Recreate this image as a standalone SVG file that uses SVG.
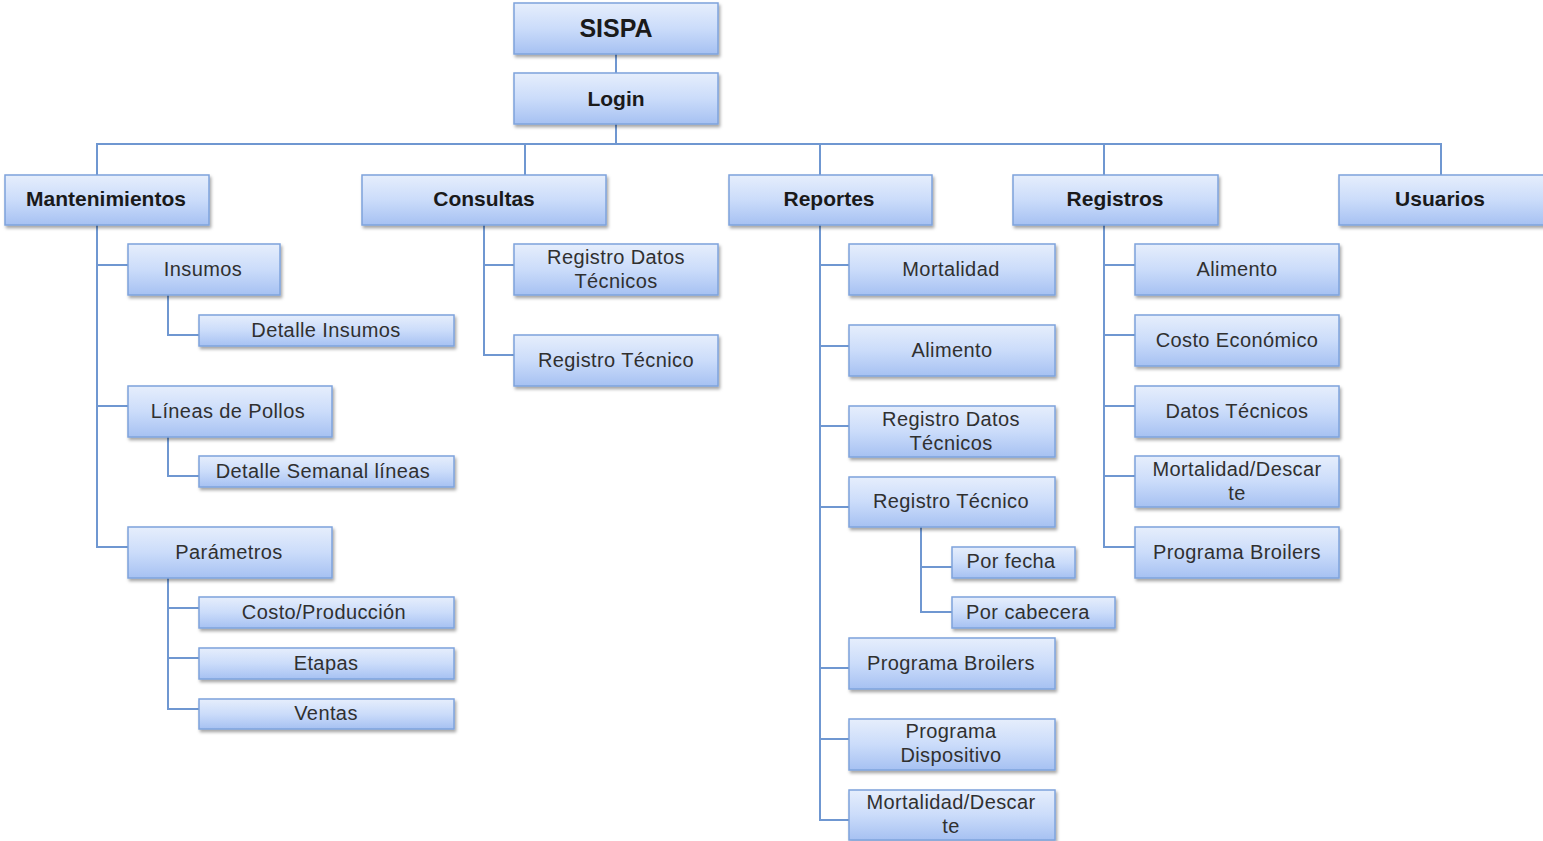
<svg xmlns="http://www.w3.org/2000/svg" width="1543" height="841" viewBox="0 0 1543 841">
  <defs>
    <linearGradient id="boxFill" x1="0" y1="0" x2="0" y2="1">
      <stop offset="0" stop-color="#e6eefc"/>
      <stop offset="0.5" stop-color="#cbdcfa"/>
      <stop offset="1" stop-color="#a6c1f2"/>
    </linearGradient>
    <filter id="shadow" x="-10%" y="-20%" width="120%" height="150%">
      <feDropShadow dx="1.5" dy="2.5" stdDeviation="1.5" flood-color="#000" flood-opacity="0.35"/>
    </filter>
  </defs>
  <style>
    .box { fill: url(#boxFill); stroke: #7ea3dc; stroke-width: 1.5; filter: url(#shadow); }
    .head { font-family: "Liberation Sans", Arial, sans-serif; font-weight: bold; font-size: 21px; fill: #1a1a1a; text-anchor: middle; }
    .title { font-size: 25px; }
    .item { font-family: "Liberation Sans", Arial, sans-serif; font-size: 20px; fill: #303030; text-anchor: middle; letter-spacing: 0.4px; }
    .wire { fill: none; stroke: #6f97d1; stroke-width: 2; }
  </style>
  <rect width="1543" height="841" fill="#ffffff"/>

  <!-- connectors -->
  <g id="connectors" class="wire">
    <path d="M616 54V73"/>
    <path d="M616 124V144"/>
    <path d="M97 175V144H1441V175"/>
    <path d="M525 144V175"/>
    <path d="M820 144V175"/>
    <path d="M1104 144V175"/>
    <!-- Mantenimientos branch -->
    <path d="M97 225V547H128"/>
    <path d="M97 265H128"/>
    <path d="M97 406H128"/>
    <path d="M168 295V335H199"/>
    <path d="M168 437V476H199"/>
    <path d="M168 578V709H199"/>
    <path d="M168 608H199"/>
    <path d="M168 658H199"/>
    <!-- Consultas branch -->
    <path d="M484 225V355H514"/>
    <path d="M484 265H514"/>
    <!-- Reportes branch -->
    <path d="M820 225V820H849"/>
    <path d="M820 265H849"/>
    <path d="M820 346H849"/>
    <path d="M820 426H849"/>
    <path d="M820 507H849"/>
    <path d="M820 668H849"/>
    <path d="M820 739H849"/>
    <path d="M921 527V612H952"/>
    <path d="M921 567H952"/>
    <!-- Registros branch -->
    <path d="M1104 225V547H1135"/>
    <path d="M1104 265H1135"/>
    <path d="M1104 335H1135"/>
    <path d="M1104 406H1135"/>
    <path d="M1104 476H1135"/>
  </g>

  <!-- top -->
  <g id="sispa"><rect class="box" x="514" y="3" width="204" height="51"/><text class="head title" x="616" y="37">SISPA</text></g>
  <g id="login"><rect class="box" x="514" y="73" width="204" height="51"/><text class="head" x="616" y="106">Login</text></g>

  <!-- main menu -->
  <g id="mantenimientos"><rect class="box" x="5" y="175" width="204" height="50"/><text class="head" x="106" y="206">Mantenimientos</text></g>
  <g id="consultas"><rect class="box" x="362" y="175" width="244" height="50"/><text class="head" x="484" y="206">Consultas</text></g>
  <g id="reportes"><rect class="box" x="729" y="175" width="203" height="50"/><text class="head" x="829" y="206">Reportes</text></g>
  <g id="registros"><rect class="box" x="1013" y="175" width="205" height="50"/><text class="head" x="1115" y="206">Registros</text></g>
  <g id="usuarios"><rect class="box" x="1339" y="175" width="210" height="50"/><text class="head" x="1440" y="206">Usuarios</text></g>

  <!-- Mantenimientos items -->
  <g id="m-insumos"><rect class="box" x="128" y="244" width="152" height="51"/><text class="item" x="203" y="276">Insumos</text></g>
  <g id="m-detalle-insumos"><rect class="box" x="199" y="315" width="255" height="31"/><text class="item" x="326" y="337">Detalle Insumos</text></g>
  <g id="m-lineas"><rect class="box" x="128" y="386" width="204" height="51"/><text class="item" x="228" y="418">Líneas de Pollos</text></g>
  <g id="m-detalle-semanal"><rect class="box" x="199" y="456" width="255" height="31"/><text class="item" x="323" y="478">Detalle Semanal líneas</text></g>
  <g id="m-parametros"><rect class="box" x="128" y="527" width="204" height="51"/><text class="item" x="229" y="559">Parámetros</text></g>
  <g id="m-costo"><rect class="box" x="199" y="597" width="255" height="31"/><text class="item" x="324" y="619">Costo/Producción</text></g>
  <g id="m-etapas"><rect class="box" x="199" y="648" width="255" height="31"/><text class="item" x="326" y="670">Etapas</text></g>
  <g id="m-ventas"><rect class="box" x="199" y="699" width="255" height="30"/><text class="item" x="326" y="720">Ventas</text></g>

  <!-- Consultas items -->
  <g id="c-datos"><rect class="box" x="514" y="244" width="204" height="51"/><text class="item" x="616" y="264">Registro Datos</text><text class="item" x="616" y="288">Técnicos</text></g>
  <g id="c-tecnico"><rect class="box" x="514" y="335" width="204" height="51"/><text class="item" x="616" y="367">Registro Técnico</text></g>

  <!-- Reportes items -->
  <g id="r-mortalidad"><rect class="box" x="849" y="244" width="206" height="51"/><text class="item" x="951" y="276">Mortalidad</text></g>
  <g id="r-alimento"><rect class="box" x="849" y="325" width="206" height="51"/><text class="item" x="952" y="357">Alimento</text></g>
  <g id="r-datos"><rect class="box" x="849" y="406" width="206" height="51"/><text class="item" x="951" y="426">Registro Datos</text><text class="item" x="951" y="450">Técnicos</text></g>
  <g id="r-tecnico"><rect class="box" x="849" y="477" width="206" height="50"/><text class="item" x="951" y="508">Registro Técnico</text></g>
  <g id="r-fecha"><rect class="box" x="952" y="547" width="123" height="31"/><text class="item" x="1011" y="568">Por fecha</text></g>
  <g id="r-cabecera"><rect class="box" x="952" y="597" width="163" height="31"/><text class="item" x="1028" y="619">Por cabecera</text></g>
  <g id="r-broilers"><rect class="box" x="849" y="638" width="206" height="51"/><text class="item" x="951" y="670">Programa Broilers</text></g>
  <g id="r-dispositivo"><rect class="box" x="849" y="719" width="206" height="51"/><text class="item" x="951" y="738">Programa</text><text class="item" x="951" y="762">Dispositivo</text></g>
  <g id="r-descarte"><rect class="box" x="849" y="790" width="206" height="50"/><text class="item" x="951" y="809">Mortalidad/Descar</text><text class="item" x="951" y="833">te</text></g>

  <!-- Registros items -->
  <g id="g-alimento"><rect class="box" x="1135" y="244" width="204" height="51"/><text class="item" x="1237" y="276">Alimento</text></g>
  <g id="g-costo"><rect class="box" x="1135" y="315" width="204" height="51"/><text class="item" x="1237" y="347">Costo Económico</text></g>
  <g id="g-datos"><rect class="box" x="1135" y="386" width="204" height="51"/><text class="item" x="1237" y="418">Datos Técnicos</text></g>
  <g id="g-descarte"><rect class="box" x="1135" y="456" width="204" height="51"/><text class="item" x="1237" y="476">Mortalidad/Descar</text><text class="item" x="1237" y="500">te</text></g>
  <g id="g-broilers"><rect class="box" x="1135" y="527" width="204" height="51"/><text class="item" x="1237" y="559">Programa Broilers</text></g>
</svg>
